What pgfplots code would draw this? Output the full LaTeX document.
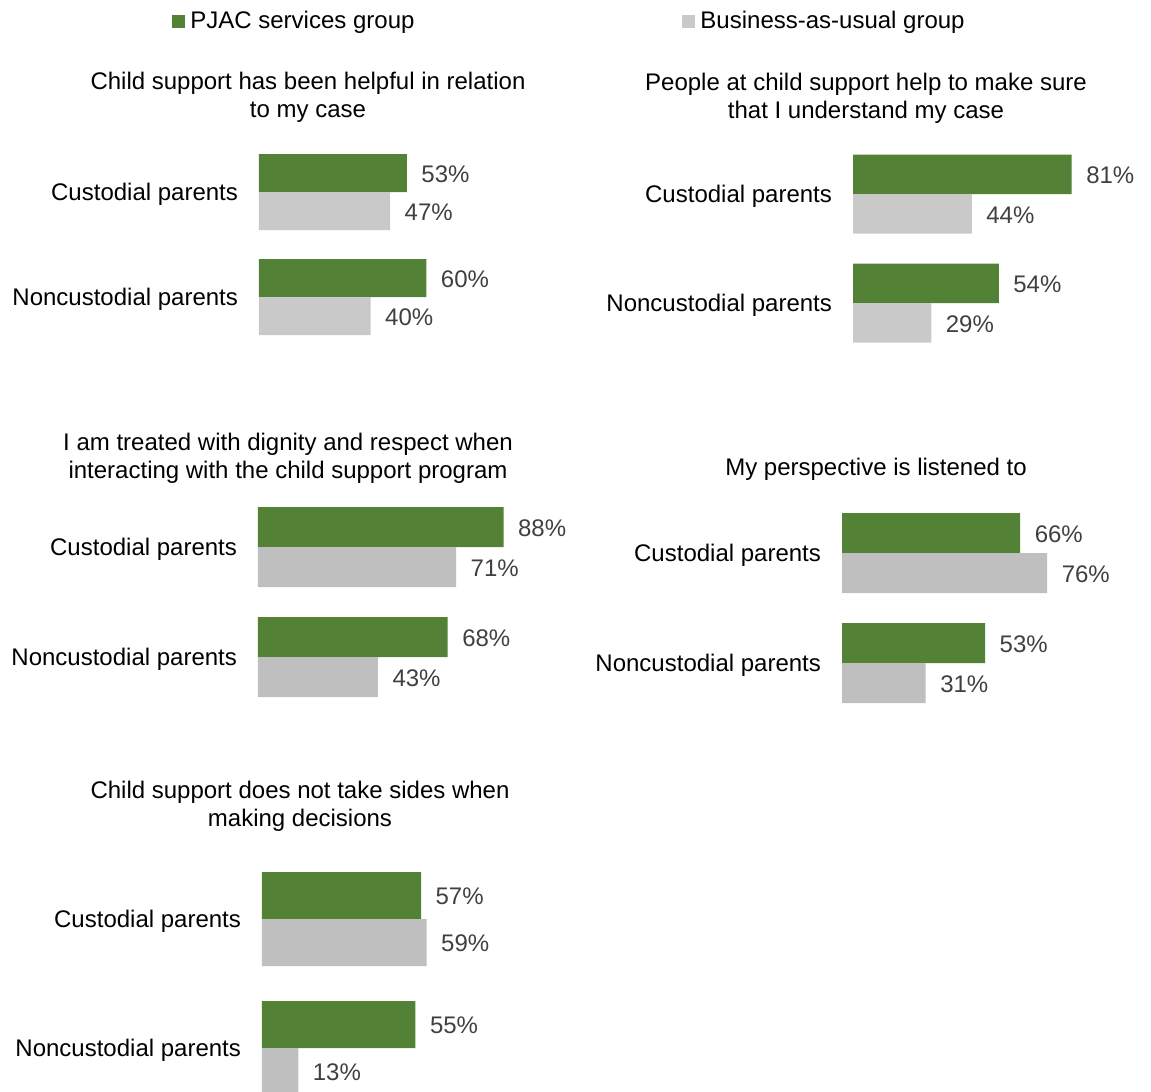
\documentclass[border=0pt]{standalone}
\usepackage{fontspec}
\setmainfont{Liberation Sans}
\usepackage{pgfplots}
\pgfplotsset{compat=1.18}
\definecolor{pjgreen}{HTML}{538135}
\definecolor{bgrayA}{HTML}{C9C9C9}
\definecolor{bgrayB}{HTML}{BFBFBF}
\definecolor{labgray}{HTML}{404040}
\pgfplotsset{
  /pgf/number format/assume math mode=true,
  panel/.style={
    xbar, scale only axis, clip=false, enlargelimits=false,
    hide x axis, axis y line*=left, y axis line style={draw=none},
    ytick style={draw=none}, major tick length=0pt,
    xmin=0, xmax=100, ymin=-0.5, ymax=1.5,
    ytick={0,1}, yticklabels={Noncustodial parents,Custodial parents},
    yticklabel style={xshift=-7pt, yshift=-1pt, text=black},
    point meta=x,
    nodes near coords={\pgfmathprintnumber{\pgfplotspointmeta}\%},
    nodes near coords style={text=labgray, xshift=3.75pt, yshift=-0.6pt},
    anchor=origin,
  },
}
\begin{document}
\begin{tikzpicture}[font=\fontsize{12}{14}\selectfont]
\useasboundingbox (0,0) rectangle (575.5pt,-546pt);

% Panel 1
\begin{axis}[panel, at={(129.5pt,-148.5pt)}, x=1.395pt, y=52.5pt, bar width=19pt,
  legend columns=2,
  legend image code/.code={\fill[#1] (0pt,-3.25pt) rectangle (6.5pt,3.25pt);},
  legend style={at={(axis cs:-31.18,2.623)}, anchor=west, draw=none, fill=none,
    inner sep=0pt, nodes={inner sep=0pt, text=black},
    /tikz/every odd column/.style={column sep=2.5pt},
    /tikz/column 2/.style={column sep=134pt}}]
\addplot[fill=pjgreen, draw=none, bar shift=9.5pt] coordinates {(60,0) (53,1)};
\addlegendentry{PJAC services group}
\addplot[fill=bgrayA, draw=none, bar shift=-9.5pt] coordinates {(40,0) (47,1)};
\addlegendentry{Business-as-usual group}
\end{axis}

% Panel 2
\begin{axis}[panel, at={(426.5pt,-151.5pt)}, x=1.35pt, y=54.5pt, bar width=19.75pt]
\addplot[fill=pjgreen, draw=none, bar shift=9.875pt] coordinates {(54,0) (81,1)};
\addplot[fill=bgrayA, draw=none, bar shift=-9.875pt] coordinates {(29,0) (44,1)};
\end{axis}

% Panel 3
\begin{axis}[panel, at={(129pt,-328.5pt)}, x=1.395pt, y=55pt, bar width=20pt]
\addplot[fill=pjgreen, draw=none, bar shift=10pt] coordinates {(68,0) (88,1)};
\addplot[fill=bgrayB, draw=none, bar shift=-10pt] coordinates {(43,0) (71,1)};
\end{axis}

% Panel 4
\begin{axis}[panel, at={(421pt,-331.5pt)}, x=1.35pt, y=55pt, bar width=20pt]
\addplot[fill=pjgreen, draw=none, bar shift=10pt] coordinates {(53,0) (66,1)};
\addplot[fill=bgrayB, draw=none, bar shift=-10pt] coordinates {(31,0) (76,1)};
\end{axis}

% Panel 5
\begin{axis}[panel, at={(131pt,-524pt)}, x=1.395pt, y=64.5pt, bar width=23.5pt]
\addplot[fill=pjgreen, draw=none, bar shift=11.75pt] coordinates {(55,0) (57,1)};
\addplot[fill=bgrayB, draw=none, bar shift=-11.75pt] coordinates {(13,0) (59,1)};
\end{axis}

% Titles
\node[align=center] at (154pt,-48.5pt) {Child support has been helpful in relation\\to my case};
\node[align=center] at (433pt,-49pt) {People at child support help to make sure\\that I understand my case};
\node[align=center] at (144pt,-229pt) {I am treated with dignity and respect when\\interacting with the child support program};
\node[align=center] at (438pt,-234.5pt) {My perspective is listened to};
\node[align=center] at (150pt,-403pt) {Child support does not take sides when\\making decisions};
\end{tikzpicture}
\end{document}
